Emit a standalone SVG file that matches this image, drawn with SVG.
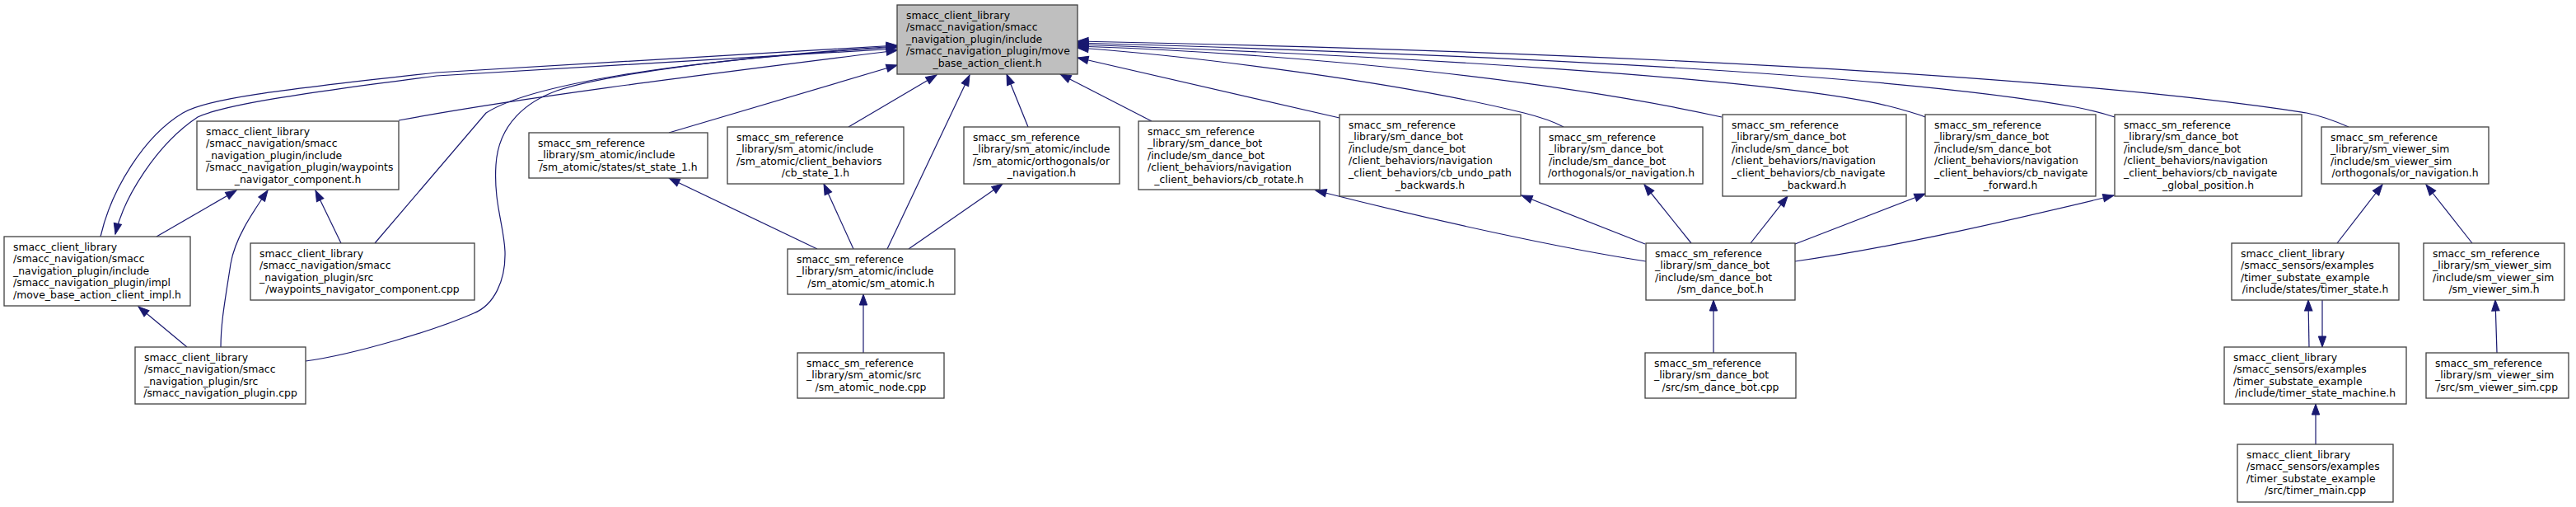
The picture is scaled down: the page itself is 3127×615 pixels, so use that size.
<svg xmlns="http://www.w3.org/2000/svg" width="3127" height="615" viewBox="0 0 3127 615">
<style>
.node rect{fill:#ffffff;stroke:#404040;stroke-width:1.3}
.node.root rect{fill:#bfbfbf}
.node text{font-family:"DejaVu Sans","Liberation Sans",sans-serif;font-size:12.4px;fill:#000000}
.c{text-anchor:middle}
.edges path{fill:none;stroke:#191970;stroke-width:1.2;marker-start:url(#ah)}
</style>
<defs>
<marker id="ah" markerUnits="userSpaceOnUse" markerWidth="16" markerHeight="12" refX="0" refY="0" viewBox="-1 -6 16 12" orient="auto" overflow="visible">
<path d="M0,0 L13,-4.7 L13,4.7 Z" fill="#191970" stroke="#191970" stroke-width="1"/>
</marker>
</defs>
<rect x="0" y="0" width="3127" height="615" fill="#ffffff"/>
<g class="edges" id="edges">
<path d="M1089,55 L530,88 C330,110 250,120 222,137 C175,165 135,230 122,287"/>
<path d="M140,284 C150,240 190,175 240,142 C270,128 350,115 530,92 L1089,59"/>
<path d="M1089,61 C900,85 650,115 484,146"/>
<path d="M1089,57 C800,75 640,105 590,137 L455,295"/>
<path d="M1089,56 C850,72 720,95 676,110 C640,123 605,150 602,200 C599,245 612,275 613,305 C614,340 600,370 575,380 C530,400 430,430 371,438"/>
<path d="M1089,79 L812,161"/>
<path d="M1137,91 L1030,154"/>
<path d="M1177,91 L1077,302"/>
<path d="M1222,90 L1248,154"/>
<path d="M1287,90 L1398,147"/>
<path d="M1308,70 L1626,143"/>
<path d="M1308,58 C1450,68 1700,100 1850,137 C1870,142 1885,147 1898,154"/>
<path d="M1308,56 C1600,66 1900,100 2090,142"/>
<path d="M1308,54 C1700,68 2150,95 2290,128 C2310,133 2325,137 2337,142"/>
<path d="M1308,52 C1800,66 2300,90 2520,130 C2540,134 2555,138 2567,142"/>
<path d="M1308,50 C1900,62 2500,90 2800,137 C2820,141 2835,147 2851,154"/>
<path d="M812,216 L992,302"/>
<path d="M1000,223 L1036,302"/>
<path d="M1217,223 L1103,302"/>
<path d="M1048,357 L1048,428"/>
<path d="M287,231 L190,287"/>
<path d="M325,231 C305,260 285,290 280,320 C274,360 268,390 268,421"/>
<path d="M383,231 L414,295"/>
<path d="M168,372 L227,421"/>
<path d="M1597,231 C1750,270 1900,302 1998,317"/>
<path d="M1847,237 L1997,296"/>
<path d="M1996,224 L2053,295"/>
<path d="M2170,238 L2125,295"/>
<path d="M2337,235 L2179,296"/>
<path d="M2566,237 C2450,265 2300,300 2179,317"/>
<path d="M2080,364 L2080,428"/>
<path d="M2892,224 L2837,295"/>
<path d="M2945,224 L3001,295"/>
<path d="M2802,364 L2803,421"/>
<path d="M2819,421 L2819,364"/>
<path d="M2811,490 L2811,539"/>
<path d="M3029,364 L3031,428"/>
</g>
<g class="node root" id="n_root"><rect x="1089" y="6" width="219" height="84"/><text><tspan x="1100" y="22.5">smacc_client_library</tspan><tspan x="1100" y="37.1">/smacc_navigation/smacc</tspan><tspan x="1100" y="51.7">_navigation_plugin/include</tspan><tspan x="1100" y="66.3">/smacc_navigation_plugin/move</tspan><tspan class="c" x="1198.5" y="80.9">_base_action_client.h</tspan></text></g>
<g class="node" id="n_impl"><rect x="5" y="287" width="226" height="84"/><text><tspan x="16" y="303.5">smacc_client_library</tspan><tspan x="16" y="318.1">/smacc_navigation/smacc</tspan><tspan x="16" y="332.7">_navigation_plugin/include</tspan><tspan x="16" y="347.3">/smacc_navigation_plugin/impl</tspan><tspan class="c" x="118" y="361.9">/move_base_action_client_impl.h</tspan></text></g>
<g class="node" id="n_wph"><rect x="239" y="147" width="245" height="83"/><text><tspan x="250" y="163.5">smacc_client_library</tspan><tspan x="250" y="178.1">/smacc_navigation/smacc</tspan><tspan x="250" y="192.7">_navigation_plugin/include</tspan><tspan x="250" y="207.3">/smacc_navigation_plugin/waypoints</tspan><tspan class="c" x="361.5" y="221.9">_navigator_component.h</tspan></text></g>
<g class="node" id="n_wpcpp"><rect x="304" y="295" width="272" height="69"/><text><tspan x="315" y="311.5">smacc_client_library</tspan><tspan x="315" y="326.1">/smacc_navigation/smacc</tspan><tspan x="315" y="340.7">_navigation_plugin/src</tspan><tspan class="c" x="440" y="355.3">/waypoints_navigator_component.cpp</tspan></text></g>
<g class="node" id="n_plugincpp"><rect x="164" y="421" width="207" height="69"/><text><tspan x="175" y="437.5">smacc_client_library</tspan><tspan x="175" y="452.1">/smacc_navigation/smacc</tspan><tspan x="175" y="466.7">_navigation_plugin/src</tspan><tspan class="c" x="267.5" y="481.3">/smacc_navigation_plugin.cpp</tspan></text></g>
<g class="node" id="n_st"><rect x="642" y="161" width="217" height="55"/><text><tspan x="653" y="177.5">smacc_sm_reference</tspan><tspan x="653" y="192.1">_library/sm_atomic/include</tspan><tspan class="c" x="750.5" y="206.7">/sm_atomic/states/st_state_1.h</tspan></text></g>
<g class="node" id="n_cbst"><rect x="883" y="154" width="214" height="69"/><text><tspan x="894" y="170.5">smacc_sm_reference</tspan><tspan x="894" y="185.1">_library/sm_atomic/include</tspan><tspan x="894" y="199.7">/sm_atomic/client_behaviors</tspan><tspan class="c" x="990" y="214.3">/cb_state_1.h</tspan></text></g>
<g class="node" id="n_ornav_a"><rect x="1170" y="154" width="189" height="69"/><text><tspan x="1181" y="170.5">smacc_sm_reference</tspan><tspan x="1181" y="185.1">_library/sm_atomic/include</tspan><tspan x="1181" y="199.7">/sm_atomic/orthogonals/or</tspan><tspan class="c" x="1264.5" y="214.3">_navigation.h</tspan></text></g>
<g class="node" id="n_atomic"><rect x="956" y="302" width="203" height="55"/><text><tspan x="967" y="318.5">smacc_sm_reference</tspan><tspan x="967" y="333.1">_library/sm_atomic/include</tspan><tspan class="c" x="1057.5" y="347.7">/sm_atomic/sm_atomic.h</tspan></text></g>
<g class="node" id="n_atomicnode"><rect x="968" y="428" width="178" height="55"/><text><tspan x="979" y="444.5">smacc_sm_reference</tspan><tspan x="979" y="459.1">_library/sm_atomic/src</tspan><tspan class="c" x="1057" y="473.7">/sm_atomic_node.cpp</tspan></text></g>
<g class="node" id="n_rotate"><rect x="1382" y="147" width="220" height="83"/><text><tspan x="1393" y="163.5">smacc_sm_reference</tspan><tspan x="1393" y="178.1">_library/sm_dance_bot</tspan><tspan x="1393" y="192.7">/include/sm_dance_bot</tspan><tspan x="1393" y="207.3">/client_behaviors/navigation</tspan><tspan class="c" x="1492" y="221.9">_client_behaviors/cb_rotate.h</tspan></text></g>
<g class="node" id="n_undo"><rect x="1626" y="139" width="220" height="99"/><text><tspan x="1637" y="155.5">smacc_sm_reference</tspan><tspan x="1637" y="170.1">_library/sm_dance_bot</tspan><tspan x="1637" y="184.7">/include/sm_dance_bot</tspan><tspan x="1637" y="199.3">/client_behaviors/navigation</tspan><tspan x="1637" y="213.9">_client_behaviors/cb_undo_path</tspan><tspan class="c" x="1736" y="228.5">_backwards.h</tspan></text></g>
<g class="node" id="n_ornav_d"><rect x="1869" y="154" width="198" height="69"/><text><tspan x="1880" y="170.5">smacc_sm_reference</tspan><tspan x="1880" y="185.1">_library/sm_dance_bot</tspan><tspan x="1880" y="199.7">/include/sm_dance_bot</tspan><tspan class="c" x="1968" y="214.3">/orthogonals/or_navigation.h</tspan></text></g>
<g class="node" id="n_back"><rect x="2091" y="139" width="223" height="99"/><text><tspan x="2102" y="155.5">smacc_sm_reference</tspan><tspan x="2102" y="170.1">_library/sm_dance_bot</tspan><tspan x="2102" y="184.7">/include/sm_dance_bot</tspan><tspan x="2102" y="199.3">/client_behaviors/navigation</tspan><tspan x="2102" y="213.9">_client_behaviors/cb_navigate</tspan><tspan class="c" x="2202.5" y="228.5">_backward.h</tspan></text></g>
<g class="node" id="n_fwd"><rect x="2337" y="139" width="207" height="99"/><text><tspan x="2348" y="155.5">smacc_sm_reference</tspan><tspan x="2348" y="170.1">_library/sm_dance_bot</tspan><tspan x="2348" y="184.7">/include/sm_dance_bot</tspan><tspan x="2348" y="199.3">/client_behaviors/navigation</tspan><tspan x="2348" y="213.9">_client_behaviors/cb_navigate</tspan><tspan class="c" x="2440.5" y="228.5">_forward.h</tspan></text></g>
<g class="node" id="n_glob"><rect x="2567" y="139" width="227" height="99"/><text><tspan x="2578" y="155.5">smacc_sm_reference</tspan><tspan x="2578" y="170.1">_library/sm_dance_bot</tspan><tspan x="2578" y="184.7">/include/sm_dance_bot</tspan><tspan x="2578" y="199.3">/client_behaviors/navigation</tspan><tspan x="2578" y="213.9">_client_behaviors/cb_navigate</tspan><tspan class="c" x="2680.5" y="228.5">_global_position.h</tspan></text></g>
<g class="node" id="n_ornav_v"><rect x="2818" y="154" width="203" height="69"/><text><tspan x="2829" y="170.5">smacc_sm_reference</tspan><tspan x="2829" y="185.1">_library/sm_viewer_sim</tspan><tspan x="2829" y="199.7">/include/sm_viewer_sim</tspan><tspan class="c" x="2919.5" y="214.3">/orthogonals/or_navigation.h</tspan></text></g>
<g class="node" id="n_dance_h"><rect x="1998" y="295" width="181" height="69"/><text><tspan x="2009" y="311.5">smacc_sm_reference</tspan><tspan x="2009" y="326.1">_library/sm_dance_bot</tspan><tspan x="2009" y="340.7">/include/sm_dance_bot</tspan><tspan class="c" x="2088.5" y="355.3">/sm_dance_bot.h</tspan></text></g>
<g class="node" id="n_dance_cpp"><rect x="1997" y="428" width="183" height="55"/><text><tspan x="2008" y="444.5">smacc_sm_reference</tspan><tspan x="2008" y="459.1">_library/sm_dance_bot</tspan><tspan class="c" x="2088.5" y="473.7">/src/sm_dance_bot.cpp</tspan></text></g>
<g class="node" id="n_timer_state"><rect x="2709" y="295" width="203" height="69"/><text><tspan x="2720" y="311.5">smacc_client_library</tspan><tspan x="2720" y="326.1">/smacc_sensors/examples</tspan><tspan x="2720" y="340.7">/timer_substate_example</tspan><tspan class="c" x="2810.5" y="355.3">/include/states/timer_state.h</tspan></text></g>
<g class="node" id="n_viewer_h"><rect x="2942" y="295" width="171" height="69"/><text><tspan x="2953" y="311.5">smacc_sm_reference</tspan><tspan x="2953" y="326.1">_library/sm_viewer_sim</tspan><tspan x="2953" y="340.7">/include/sm_viewer_sim</tspan><tspan class="c" x="3027.5" y="355.3">/sm_viewer_sim.h</tspan></text></g>
<g class="node" id="n_tsm"><rect x="2700" y="421" width="221" height="69"/><text><tspan x="2711" y="437.5">smacc_client_library</tspan><tspan x="2711" y="452.1">/smacc_sensors/examples</tspan><tspan x="2711" y="466.7">/timer_substate_example</tspan><tspan class="c" x="2810.5" y="481.3">/include/timer_state_machine.h</tspan></text></g>
<g class="node" id="n_viewer_cpp"><rect x="2945" y="428" width="173" height="55"/><text><tspan x="2956" y="444.5">smacc_sm_reference</tspan><tspan x="2956" y="459.1">_library/sm_viewer_sim</tspan><tspan class="c" x="3031.5" y="473.7">/src/sm_viewer_sim.cpp</tspan></text></g>
<g class="node" id="n_timer_main"><rect x="2716" y="539" width="189" height="70"/><text><tspan x="2727" y="555.5">smacc_client_library</tspan><tspan x="2727" y="570.1">/smacc_sensors/examples</tspan><tspan x="2727" y="584.7">/timer_substate_example</tspan><tspan class="c" x="2810.5" y="599.3">/src/timer_main.cpp</tspan></text></g>
</svg>
